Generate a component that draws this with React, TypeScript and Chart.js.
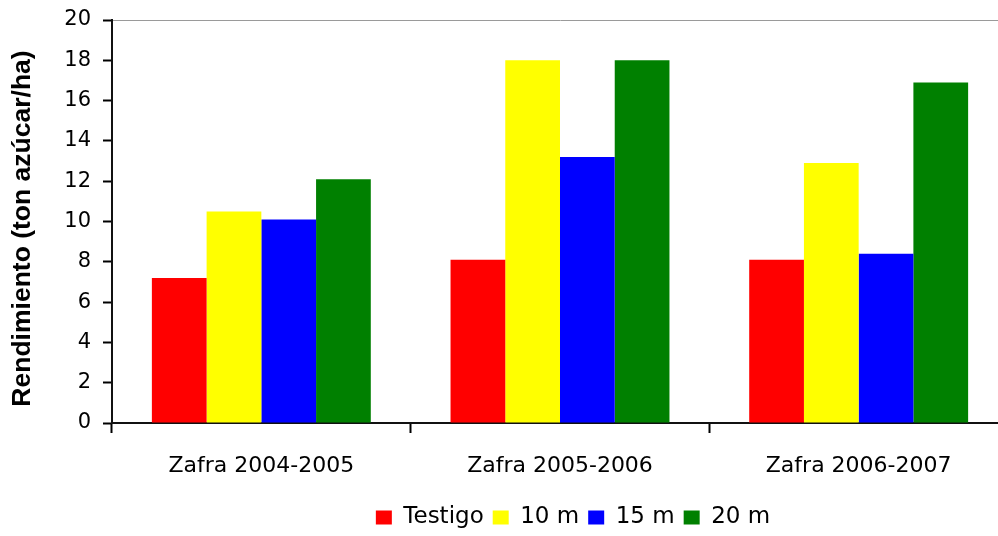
import React, { useEffect, useRef } from "react";
import { Chart, registerables } from "chart.js";

Chart.register(...registerables);

const categories = ["Zafra 2004-2005", "Zafra 2005-2006", "Zafra 2006-2007"];
const seriesNames = ["Testigo", "10 m", "15 m", "20 m"];
const testigo = [7.2, 8.1, 8.1];
const m10 = [10.5, 18.0, 12.9];
const m15 = [10.1, 13.2, 8.4];
const m20 = [12.1, 18.0, 16.9];
const seriesColors = ["#FF0000", "#FFFF00", "#0000FF", "#008000"];
const yTitle = "Rendimiento (ton azúcar/ha)";
const yMin = 0;
const yMax = 20;
const yStep = 2;

const LEGEND_DX = 69;
const LEGEND_TOP = 497;
const TITLE_DY = 7;

const legendShift = {
  id: "legendShift",
  afterLayout(chart: any) {
    const lg = chart.legend;
    if (lg) {
      const h = lg.height;
      lg.left += LEGEND_DX;
      lg.right += LEGEND_DX;
      lg.top = LEGEND_TOP;
      lg.bottom = LEGEND_TOP + h;
    }
    const ys = chart.scales && chart.scales.y;
    if (ys && !ys.__titleShifted) {
      const orig = ys.drawTitle.bind(ys);
      ys.drawTitle = function () {
        const ctx = chart.ctx;
        ctx.save();
        ctx.translate(0, TITLE_DY);
        orig();
        ctx.restore();
      };
      ys.__titleShifted = true;
    }
  },
};

export default function App() {
  const ref = useRef<HTMLCanvasElement | null>(null);

  useEffect(() => {
    if (!ref.current) return;
    const values = [testigo, m10, m15, m20];
    const chart = new Chart(ref.current, {
      type: "bar",
      data: {
        labels: categories,
        datasets: seriesNames.map((name, i) => ({
          label: name,
          data: values[i],
          backgroundColor: seriesColors[i],
          borderWidth: 0,
          categoryPercentage: 0.733,
          barPercentage: 1,
        })),
      },
      options: {
        responsive: true,
        maintainAspectRatio: false,
        animation: false,
        layout: { padding: { left: 0, right: 0, top: 20, bottom: 0 } },
        plugins: {
          tooltip: { enabled: false },
          legend: {
            position: "bottom",
            labels: {
              boxWidth: 16,
              boxHeight: 14,
              padding: 9,
              color: "#000",
              font: { family: "'DejaVu Sans'", size: 23 },
            },
          },
        },
        scales: {
          x: {
            afterFit: (s: any) => {
              s.height = 71;
            },
            grid: {
              offset: true,
              drawOnChartArea: false,
              drawTicks: true,
              tickLength: 10,
              tickColor: "#000",
              tickWidth: 2,
            },
            border: { display: true, color: "#111", width: 2 },
            ticks: {
              color: "#000",
              padding: 20,
              font: { family: "'DejaVu Sans'", size: 22 },
            },
          },
          y: {
            min: yMin,
            max: yMax,
            afterFit: (s: any) => {
              s.width = 112;
              s.paddingTop = 0;
              s.paddingBottom = 0;
            },
            grid: {
              color: (ctx: any) =>
                ctx.tick && ctx.tick.value === yMax ? "#9a9a9a" : "rgba(0,0,0,0)",
              lineWidth: 1,
              drawTicks: true,
              tickLength: 9,
              tickColor: "#000",
              tickWidth: 2,
            },
            border: { display: true, color: "#111", width: 2 },
            ticks: {
              stepSize: yStep,
              color: "#000",
              padding: 12,
              font: { family: "'DejaVu Sans'", size: 21 },
            },
            title: {
              display: true,
              text: yTitle,
              color: "#000",
              padding: { top: 7, bottom: 0 },
              font: { family: "'Liberation Sans'", size: 26.5, weight: "bold" },
            },
          },
        },
      },
      plugins: [legendShift],
    });
    return () => chart.destroy();
  }, []);

  return (
    <div
      style={{
        position: "fixed",
        left: 0,
        top: 0,
        width: 998,
        height: 536,
        overflow: "hidden",
        background: "#fff",
      }}
    >
      <div style={{ position: "relative", width: 1008, height: 536 }}>
        <canvas ref={ref} />
      </div>
    </div>
  );
}
